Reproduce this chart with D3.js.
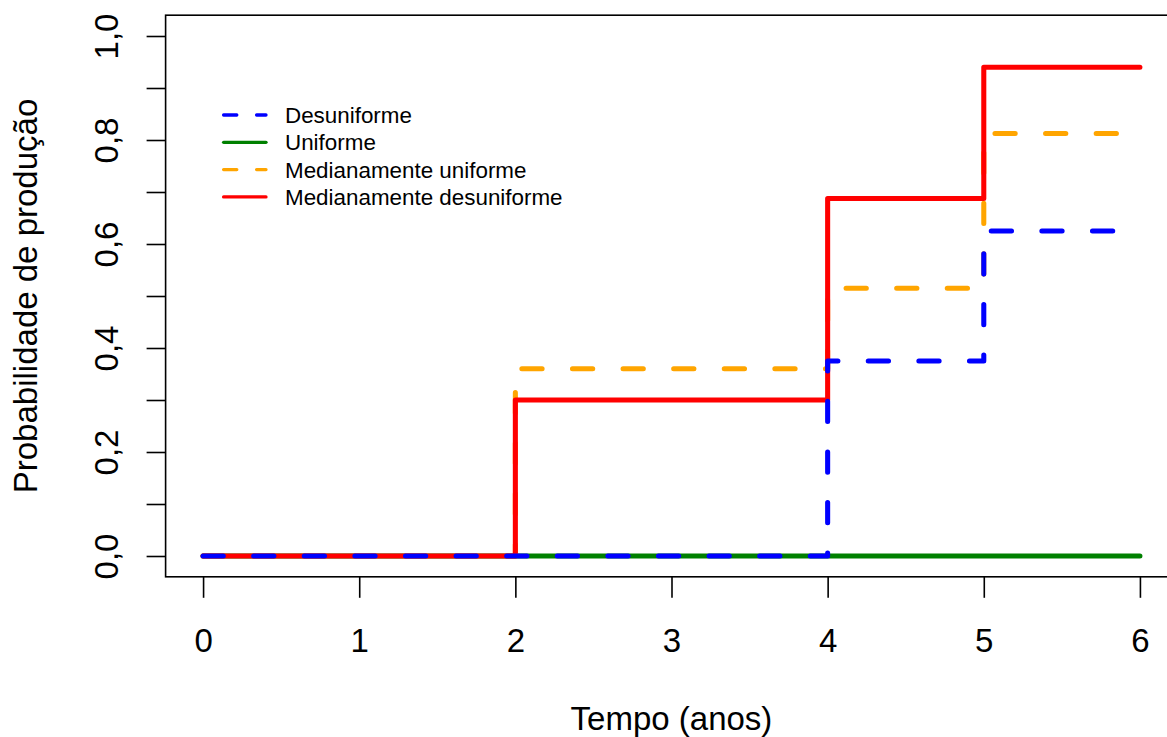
<!DOCTYPE html>
<html>
<head>
<meta charset="utf-8">
<script src="https://cdn.jsdelivr.net/npm/d3@7"></script>
<style>
  html, body { margin: 0; padding: 0; background: #fff; }
  svg { display: block; font-family: "Liberation Sans", Arial, Helvetica, sans-serif; }
</style>
</head>
<body>
<svg id="chart" width="1167" height="737"></svg>
<script>
// ---- Data ----
const times = [0, 1, 2, 3, 4, 5, 6];
const desuniforme = [0, 0, 0, 0, 0.375, 0.625, 0.625];
const uniforme = [0, 0, 0, 0, 0, 0, 0];
const medianamenteUniforme = [0, 0, 0.36, 0.36, 0.515, 0.8125, 0.8125];
const medianamenteDesuniforme = [0, 0, 0.30, 0.30, 0.6875, 0.94, 0.94];
const seriesNames = ["Desuniforme", "Uniforme", "Medianamente uniforme", "Medianamente desuniforme"];
const seriesColors = ["#0000FF", "#008000", "#FFA500", "#FF0000"];
const seriesDashed = [true, false, true, false];
const xTicks = [0, 1, 2, 3, 4, 5, 6];
const yTicks = [0, 0.1, 0.2, 0.3, 0.4, 0.5, 0.6, 0.7, 0.8, 0.9, 1.0];
const yLabeled = [0, 0.2, 0.4, 0.6, 0.8, 1.0];
const xTitle = "Tempo (anos)";
const yTitle = "Probabilidade de produção";

const seriesValues = [desuniforme, uniforme, medianamenteUniforme, medianamenteDesuniforme];
// drawing order: Uniforme, Medianamente uniforme, Medianamente desuniforme, Desuniforme
const drawOrder = [1, 2, 3, 0];

const svg = d3.select("#chart");

const x = d3.scaleLinear().domain([-0.24, 6.24]).range([165.6, 1177.4]);
const y = d3.scaleLinear().domain([-0.04, 1.04]).range([576.8, 15.2]);

const fontSize = 33;
const lw = 5.06;

// frame
svg.append("rect")
  .attr("x", x(-0.24)).attr("y", y(1.04))
  .attr("width", x(6.24) - x(-0.24)).attr("height", y(-0.04) - y(1.04))
  .attr("fill", "none").attr("stroke", "#000").attr("stroke-width", 1.6);

// x axis
const xAxis = d3.axisBottom(x).tickValues(xTicks).tickSize(21).tickSizeOuter(0)
  .tickFormat(d3.format("d"));
const gx = svg.append("g").attr("transform", `translate(0,${y(-0.04)})`).call(xAxis);
gx.select(".domain").remove();
gx.selectAll(".tick line").attr("stroke", "#000").attr("stroke-width", 1.6);
gx.selectAll(".tick text").attr("font-size", fontSize).attr("fill", "#000")
  .attr("font-family", "Liberation Sans, Arial, sans-serif")
  .attr("y", 0).attr("dy", null).attr("transform", "translate(0,75)");

// y axis
const fmt = d => yLabeled.some(v => Math.abs(v - d) < 1e-9) ? d3.format(".1f")(d).replace(".", ",") : "";
const yAxis = d3.axisLeft(y).tickValues(yTicks).tickSize(19).tickSizeOuter(0).tickFormat(fmt);
const gy = svg.append("g").attr("transform", `translate(${x(-0.24)},0)`).call(yAxis);
gy.select(".domain").remove();
gy.selectAll(".tick line").attr("stroke", "#000").attr("stroke-width", 1.6);
gy.selectAll(".tick text").attr("font-size", fontSize).attr("fill", "#000")
  .attr("font-family", "Liberation Sans, Arial, sans-serif")
  .attr("x", 0).attr("dy", null).attr("text-anchor", "middle")
  .attr("transform", "translate(-48,0) rotate(-90)");

// titles
svg.append("text").attr("x", x(3)).attr("y", 730).attr("text-anchor", "middle")
  .attr("font-size", fontSize).attr("fill", "#000").text(xTitle);
svg.append("text").attr("transform", `translate(37,${y(0.5)}) rotate(-90)`)
  .attr("text-anchor", "middle").attr("font-size", fontSize).attr("fill", "#000").text(yTitle);

// lines
const line = d3.line().x(d => x(d[0])).y(d => y(d[1])).curve(d3.curveStepAfter);
drawOrder.forEach(i => {
  const pts = times.map((t, k) => [t, seriesValues[i][k]]);
  svg.append("path").datum(pts).attr("d", line)
    .attr("fill", "none").attr("stroke", seriesColors[i]).attr("stroke-width", lw)
    .attr("stroke-linecap", "round").attr("stroke-linejoin", "round")
    .attr("stroke-dasharray", seriesDashed[i] ? `${4 * lw},${6 * lw}` : null);
});

// legend
const legW = 3.3;
const leg = svg.append("g");
seriesNames.forEach((name, i) => {
  const cy = 115 + i * 27.3;
  leg.append("line").attr("x1", 223.6).attr("x2", 266).attr("y1", cy).attr("y2", cy)
    .attr("stroke", seriesColors[i]).attr("stroke-width", legW).attr("stroke-linecap", "round")
    .attr("stroke-dasharray", seriesDashed[i] ? `${4 * legW},${6 * legW}` : null);
  leg.append("text").attr("x", 285).attr("y", cy + 8).attr("font-size", 22.4)
    .attr("fill", "#000").text(name);
});
</script>
</body>
</html>
